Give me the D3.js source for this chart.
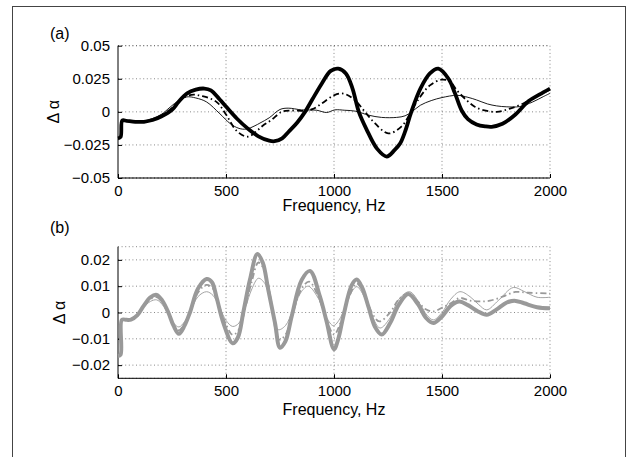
<!DOCTYPE html>
<html>
<head>
<meta charset="utf-8">
<script src="https://cdn.jsdelivr.net/npm/d3@7"></script>
<style>
  body { margin: 0; background: #fff; }
  text { font-family: "Liberation Sans", Arial, sans-serif; fill: #000; }
</style>
</head>
<body>
<div id="container"></div>
<script>
/* CONSTANTS AND GLOBALS */
const width = 630;
const height = 457;

/* DATA: [frequency Hz, delta alpha] */
// panel (a)
const aThick = [[0,-0.020],[12,-0.019],[20,-0.0065],[40,-0.0068],[80,-0.0075],[120,-0.0075],[160,-0.0062],[200,-0.0035],[250,0.0015],[280,0.0075],[320,0.014],[360,0.0168],[400,0.0176],[430,0.0162],[470,0.0095],[500,0.004],[550,-0.005],[600,-0.0125],[650,-0.0185],[700,-0.0218],[725,-0.0222],[760,-0.020],[790,-0.015],[830,-0.008],[866,0.000],[900,0.0095],[943,0.0213],[985,0.031],[1020,0.0326],[1055,0.029],[1085,0.018],[1115,0.000],[1150,-0.013],[1200,-0.028],[1244,-0.0338],[1280,-0.029],[1306,-0.024],[1329,-0.015],[1358,0.000],[1400,0.0175],[1444,0.029],[1483,0.0326],[1530,0.025],[1560,0.014],[1591,0.001],[1620,-0.0055],[1660,-0.0095],[1700,-0.011],[1730,-0.0113],[1780,-0.009],[1840,-0.002],[1900,0.008],[1950,0.013],[2000,0.0176]];
const aDashDot = [[0,-0.020],[12,-0.019],[20,-0.0065],[40,-0.0068],[80,-0.0075],[120,-0.0075],[160,-0.006],[200,-0.003],[250,0.003],[300,0.0105],[350,0.013],[385,0.012],[420,0.0105],[460,0.007],[500,-0.002],[550,-0.0145],[600,-0.0188],[640,-0.0148],[670,-0.0105],[711,-0.006],[758,0.000],[800,0.001],[866,0.0008],[900,0.002],[943,0.0063],[1000,0.0125],[1043,0.0138],[1097,0.0088],[1143,0.000],[1190,-0.0087],[1251,-0.0163],[1313,-0.011],[1350,-0.002],[1383,0.0075],[1444,0.020],[1498,0.0243],[1537,0.023],[1570,0.016],[1614,0.0088],[1650,0.004],[1691,0.0013],[1753,0.000],[1815,0.0025],[1876,0.0063],[1940,0.012],[2000,0.0168]];
const aThin = [[0,-0.020],[12,-0.019],[20,-0.0065],[40,-0.0068],[80,-0.0073],[120,-0.007],[160,-0.005],[200,-0.002],[241,0.0035],[280,0.0085],[318,0.0113],[360,0.0105],[410,0.0075],[472,-0.0015],[519,-0.0088],[560,-0.0125],[595,-0.013],[634,-0.0105],[657,-0.0085],[700,-0.0045],[750,0.0018],[788,0.0028],[850,0.0015],[920,0.0012],[966,-0.0005],[1004,0.0015],[1050,0.0012],[1100,0.0005],[1160,-0.0025],[1220,-0.0042],[1290,-0.0042],[1329,-0.003],[1360,0.000],[1400,0.005],[1450,0.0085],[1500,0.0108],[1570,0.0125],[1620,0.011],[1660,0.009],[1710,0.006],[1753,0.0045],[1800,0.0038],[1860,0.004],[1920,0.0075],[1969,0.0115],[2000,0.014]];

// panel (b)
const bThick = [[0,-0.0165],[12,-0.016],[18,-0.0028],[40,-0.0028],[60,-0.0027],[90,-0.001],[117,0.0023],[150,0.0058],[179,0.0067],[205,0.0045],[233,0.000],[257,-0.005],[282,-0.0081],[308,-0.005],[333,0.000],[370,0.009],[410,0.0127],[435,0.0115],[457,0.0055],[488,-0.004],[531,-0.0117],[555,-0.0095],[580,0.000],[611,0.0125],[645,0.0222],[670,0.019],[696,0.0085],[727,-0.004],[750,-0.0134],[775,-0.011],[804,-0.0015],[850,0.0123],[889,0.0158],[935,0.006],[966,-0.0035],[1000,-0.014],[1020,-0.010],[1043,-0.0015],[1082,0.0104],[1105,0.0125],[1130,0.0095],[1160,0.002],[1190,-0.0055],[1221,-0.0084],[1260,-0.004],[1300,0.003],[1344,0.007],[1390,0.003],[1425,-0.002],[1460,-0.004],[1500,-0.0015],[1540,0.0025],[1580,0.0042],[1620,0.0028],[1665,0.0005],[1707,-0.0009],[1750,0.001],[1800,0.0038],[1835,0.0045],[1880,0.0035],[1940,0.002],[2000,0.0016]];
const bDashDot = [[0,-0.0165],[12,-0.016],[18,-0.0028],[40,-0.0028],[60,-0.0027],[90,-0.001],[117,0.002],[150,0.005],[179,0.0058],[205,0.0038],[233,-0.0003],[257,-0.0045],[282,-0.0068],[308,-0.0042],[333,0.000],[370,0.0075],[410,0.0105],[440,0.009],[470,0.002],[500,-0.0045],[531,-0.0085],[560,-0.0065],[590,0.002],[620,0.012],[650,0.019],[680,0.0155],[710,0.004],[745,-0.0103],[775,-0.0085],[810,0.000],[850,0.009],[885,0.0117],[930,0.0055],[966,-0.003],[1000,-0.0084],[1030,-0.004],[1070,0.006],[1105,0.011],[1140,0.007],[1175,0.000],[1210,-0.0034],[1260,0.000],[1300,0.005],[1345,0.007],[1390,0.004],[1425,0.0012],[1460,0.0004],[1500,0.0018],[1540,0.0035],[1583,0.0055],[1630,0.0045],[1676,0.0042],[1722,0.0045],[1780,0.006],[1840,0.0078],[1900,0.0075],[2000,0.0072]];
const bThin = [[0,-0.0165],[12,-0.016],[18,-0.0028],[40,-0.0028],[60,-0.0027],[90,-0.001],[117,0.0018],[150,0.0042],[179,0.0048],[205,0.003],[233,-0.0005],[257,-0.004],[282,-0.0055],[308,-0.0035],[333,0.000],[370,0.006],[410,0.0079],[440,0.0065],[470,0.002],[500,-0.003],[531,-0.0053],[560,-0.004],[590,0.002],[620,0.009],[650,0.013],[680,0.011],[710,0.003],[741,-0.0065],[775,-0.005],[810,0.001],[850,0.008],[881,0.010],[930,0.005],[966,-0.002],[997,-0.005],[1030,-0.002],[1070,0.006],[1105,0.0098],[1140,0.006],[1175,-0.001],[1213,-0.0059],[1260,-0.002],[1300,0.005],[1350,0.0079],[1400,0.003],[1430,-0.001],[1460,-0.0028],[1500,0.000],[1540,0.005],[1583,0.0079],[1630,0.006],[1670,0.003],[1707,0.001],[1760,0.0045],[1830,0.0095],[1880,0.008],[1940,0.0058],[2000,0.0058]];

// ticks
const xTicks = [0, 500, 1000, 1500, 2000];
const aTicks = [-0.05, -0.025, 0, 0.025, 0.05];
const bTicks = [-0.02, -0.01, 0, 0.01, 0.02];

/* HTML ELEMENTS */
const svg = d3.select("#container")
    .append("svg")
    .attr("width", width)
    .attr("height", height)

// figure frame
svg.append("rect")
    .attr("x", 12.5).attr("y", 6.5)
    .attr("width", 613).attr("height", 470)
    .attr("fill", "none")
    .attr("stroke", "#444")

const fmt = d => d === 0 ? "0" : d3.format("")(d).replace("-", "\u2212")

function panel(opts) {
  const x = d3.scaleLinear().domain([0, 2000]).range([118, 550])
  const y = d3.scaleLinear().domain(opts.domain).range([opts.bottom, opts.top])
  const g = svg.append("g")

  // dotted grid
  g.selectAll(".gx").data(xTicks.slice(1)).join("line")
      .attr("x1", d => x(d)).attr("x2", d => x(d))
      .attr("y1", opts.top).attr("y2", opts.bottom)
      .attr("stroke", "#555").attr("stroke-width", 0.7)
      .attr("stroke-dasharray", "1,2.6")
  g.selectAll(".gy").data(opts.ticks.concat(opts.domain)).join("line")
      .attr("x1", x(0)).attr("x2", x(2000))
      .attr("y1", d => y(d)).attr("y2", d => y(d))
      .attr("stroke", "#555").attr("stroke-width", 0.7)
      .attr("stroke-dasharray", "1,2.6")

  // axes (ticks inward)
  const xAxis = g.append("g")
      .attr("transform", `translate(0, ${opts.bottom})`)
      .call(d3.axisBottom(x).tickValues(xTicks).tickSize(-4).tickPadding(7).tickFormat(d3.format("")))
  const yAxis = g.append("g")
      .attr("transform", `translate(118, 0)`)
      .call(d3.axisLeft(y).tickValues(opts.ticks).tickSize(-4).tickPadding(8).tickFormat(fmt))
  ;[xAxis, yAxis].forEach(a => {
    a.select(".domain").attr("stroke", "#000").attr("stroke-width", 1)
    a.selectAll(".tick line").attr("stroke", "#000")
    a.selectAll("text").style("font-size", "15px")
        .attr("font-family", "Liberation Sans, Arial, sans-serif").attr("fill", "#000")
  })
  xAxis.select(".domain").attr("d", `M118,0H550`)
  yAxis.select(".domain").attr("d", `M0,${opts.top}V${opts.bottom}`)

  // labels
  svg.append("text")
      .attr("x", 334).attr("y", opts.xLabelY)
      .attr("text-anchor", "middle")
      .style("font-size", "16px")
      .text("Frequency, Hz")
  svg.append("text")
      .attr("transform", `translate(${opts.yLabelX}, ${(opts.top + opts.bottom) / 2}) rotate(-90)`)
      .attr("text-anchor", "middle")
      .style("font-size", "16px")
      .text("\u0394 \u03b1")
  svg.append("text")
      .attr("x", 50).attr("y", opts.tagY)
      .style("font-size", "16px")
      .text(opts.tag)

  // curves
  const line = d3.line()
      .x(d => x(d[0]))
      .y(d => y(d[1]))
      .curve(d3.curveCatmullRom.alpha(0.5))
  opts.series.forEach(s => {
    g.append("path")
        .datum(s.data)
        .attr("d", line)
        .attr("fill", "none")
        .attr("stroke", s.color)
        .attr("stroke-width", s.w)
        .attr("stroke-dasharray", s.dash || null)
        .attr("stroke-linejoin", "round")
  })
}

panel({
  domain: [-0.05, 0.05], ticks: aTicks, top: 45.7, bottom: 178,
  xLabelY: 211, yLabelX: 59, tagY: 39, tag: "(a)",
  series: [
    {data: aThin, color: "#000", w: 0.9},
    {data: aDashDot, color: "#000", w: 1.8, dash: "6,3,1.5,3"},
    {data: aThick, color: "#000", w: 3.8}
  ]
})

panel({
  domain: [-0.025, 0.025], ticks: bTicks, top: 246.7, bottom: 378.3,
  xLabelY: 415, yLabelX: 65, tagY: 233, tag: "(b)",
  series: [
    {data: bThin, color: "#999", w: 0.9},
    {data: bDashDot, color: "#999", w: 1.8, dash: "6,3,1.5,3"},
    {data: bThick, color: "#999", w: 4}
  ]
})
</script>
</body>
</html>
